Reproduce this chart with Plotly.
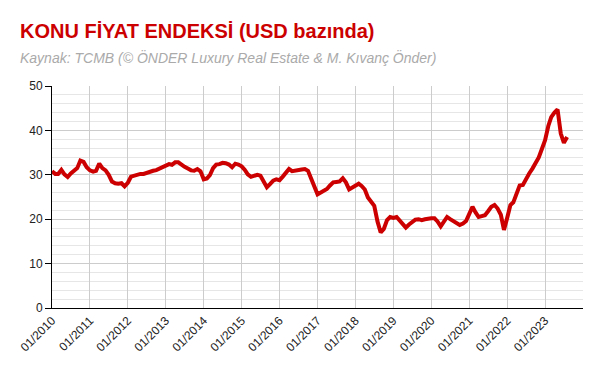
import pandas as pd
import plotly.graph_objects as go

# Monthly index values (USD based), Jan 2010 .. Aug 2023
v2010 = [30.8, 30.2, 30.2, 31.1, 30.1, 29.5, 30.3, 31.0, 31.5, 33.2, 32.9, 31.7]
v2011 = [31.0, 30.7, 30.9, 32.5, 31.5, 31.0, 30.0, 28.5, 28.1, 28.0, 28.1, 27.4]
v2012 = [28.2, 29.6, 29.8, 30.0, 30.2, 30.2, 30.5, 30.8, 30.9, 31.05, 31.4, 31.7]
v2013 = [32.0, 32.4, 32.25, 32.8, 32.8, 32.2, 31.8, 31.4, 31.0, 30.9, 31.3, 30.8]
v2014 = [29.0, 29.2, 29.9, 31.5, 32.3, 32.4, 32.7, 32.6, 32.3, 31.7, 32.5, 32.3]
v2015 = [31.9, 31.1, 30.1, 29.55, 29.8, 30.0, 29.8, 28.4, 27.2, 27.9, 28.7, 29.0]
v2016 = [28.8, 29.6, 30.5, 31.3, 30.8, 31.0, 31.0, 31.2, 31.3, 30.9, 29.1, 27.5]
v2017 = [25.6, 26.0, 26.4, 26.8, 27.6, 28.3, 28.4, 28.5, 29.2, 28.3, 26.7, 27.1]
v2018 = [27.6, 28.0, 27.5, 26.7, 24.9, 23.8, 23.0, 19.5, 17.0, 17.8, 19.8, 20.5]
v2019 = [20.3, 20.5, 19.8, 19.0, 18.1, 18.8, 19.4, 19.9, 20.0, 19.8, 20.0, 20.2]
v2020 = [20.2, 20.2, 19.5, 18.4, 19.4, 20.5, 20.0, 19.5, 19.0, 18.7, 19.0, 19.6]
v2021 = [21.2, 22.8, 21.6, 20.5, 20.7, 20.9, 21.8, 22.8, 23.2, 22.4, 21.0, 17.6]
v2022 = [20.3, 23.2, 23.8, 25.8, 27.6, 27.7, 29.2, 30.3, 31.4, 32.5, 33.9, 35.8]
v2023 = [37.8, 41.0, 43.0, 44.0, 44.7, 39.3, 37.2, 38.5]

values = (v2010 + v2011 + v2012 + v2013 + v2014 + v2015 + v2016 + v2017
          + v2018 + v2019 + v2020 + v2021 + v2022 + v2023)
dates = pd.date_range("2010-01-01", periods=len(values), freq="MS")

tick_years = list(range(2010, 2024))
tick_vals = [f"{y}-01-01" for y in tick_years]
tick_text = [f"01/{y}" for y in tick_years]

title_text = "KONU FİYAT ENDEKSİ (USD bazında)"
subtitle_text = "Kaynak: TCMB (© ÖNDER Luxury Real Estate & M. Kıvanç Önder)"

fig = go.Figure()
fig.add_trace(go.Scatter(
    x=dates, y=values, mode="lines",
    line=dict(color="#cc0000", width=4),
    hoverinfo="x+y", showlegend=False,
))

FONT = "Liberation Sans, Arial, sans-serif"

fig.update_layout(
    width=592, height=363,
    margin=dict(l=44, r=17, t=78, b=63, autoexpand=False),
    paper_bgcolor="white", plot_bgcolor="white",
    font=dict(family=FONT, size=12, color="#222"),
    annotations=[
        dict(text=f"<b>{title_text}</b>", xref="paper", yref="paper",
             x=(18 - 52) / 531, y=(308 - 31) / 222, xanchor="left", yanchor="middle",
             showarrow=False, font=dict(family=FONT, size=20, color="#cc0000")),
        dict(text=f"<i>{subtitle_text}</i>", xref="paper", yref="paper",
             x=(18 - 52) / 531, y=(308 - 58) / 222, xanchor="left", yanchor="middle",
             showarrow=False, font=dict(family=FONT, size=14, color="#aaaaaa")),
    ],
)

fig.update_xaxes(
    type="date", range=["2010-01-01", "2024-01-01"],
    tickmode="array", tickvals=tick_vals, ticktext=tick_text,
    tickangle=-45, tickfont=dict(size=12, color="#222"),
    showgrid=True, gridcolor="#cccccc", gridwidth=1,
    showline=True, linecolor="black", linewidth=1,
    ticks="", zeroline=False, automargin=False,
)
fig.update_yaxes(
    range=[0, 50], tick0=0, dtick=10,
    tickfont=dict(size=12, color="#222"),
    showgrid=True, gridcolor="#cccccc", gridwidth=1,
    minor=dict(dtick=2, showgrid=True, gridcolor="#e6e6e6", gridwidth=1),
    showline=True, linecolor="black", linewidth=1,
    ticks="outside", ticklen=6, tickcolor="black",
    zeroline=False, automargin=False,
)

fig.write_html("out.html")
